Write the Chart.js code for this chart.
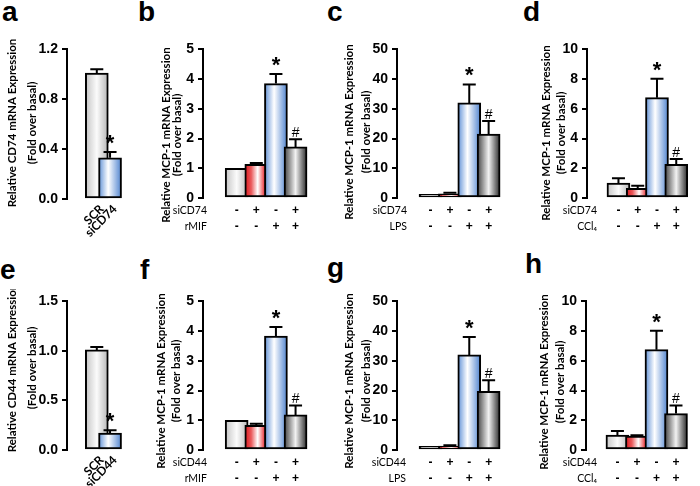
<!DOCTYPE html>
<html>
<head>
<meta charset="utf-8">
<script src="https://cdn.jsdelivr.net/npm/chart.js@4.4.1/dist/chart.umd.min.js"></script>
<style>
  html, body { margin: 0; padding: 0; background: #fff; }
  body { width: 700px; height: 486px; position: relative; overflow: hidden; }
  canvas { position: absolute; }
  .letter { position: absolute; font: bold 28px "Liberation Sans", Arial, sans-serif; line-height: 28px; color: #000; }
</style>
</head>
<body>
<div class="letter" style="left:2px;top:-2px">a</div>
<div class="letter" style="left:138px;top:-2px">b</div>
<div class="letter" style="left:327px;top:-2px">c</div>
<div class="letter" style="left:523px;top:-2px">d</div>
<div class="letter" style="left:0px;top:256px">e</div>
<div class="letter" style="left:140px;top:256px">f</div>
<div class="letter" style="left:327px;top:254px">g</div>
<div class="letter" style="left:525px;top:250px">h</div>

<script>
// ---- data ----
const knock74Labels = ['SCR', 'siCD74'];
const knock44Labels = ['SCR', 'siCD44'];
const siRow = ['-', '+', '-', '+'];
const stimRow = ['-', '-', '+', '+'];

const cd74Values = [1.01, 0.33];
const cd74Err = [0.03, 0.048];
const cd74Sig = ['', '*'];

const mif74Values = [1.0, 1.13, 3.85, 1.72];
const mif74Err = [0, 0.05, 0.32, 0.26];

const lps74Values = [1.2, 1.4, 32, 21.5];
const lps74Err = [0, 0.4, 6.2, 4.4];

const ccl74Values = [1.0, 0.65, 6.75, 2.27];
const ccl74Err = [0.33, 0.17, 1.28, 0.35];

const cd44Values = [1.01, 0.17];
const cd44Err = [0.03, 0.03];
const cd44Sig = ['', '*'];

const mif44Values = [1.0, 0.83, 3.83, 1.18];
const mif44Err = [0, 0.05, 0.31, 0.32];

const lps44Values = [1.2, 1.3, 32, 19.7];
const lps44Err = [0, 0.3, 6.0, 3.8];

const ccl44Values = [1.0, 0.93, 6.75, 2.45];
const ccl44Err = [0.28, 0.06, 1.27, 0.55];

const treatSig = ['', '', '*', '#'];

// bar shading, horizontal gradient stops [offset, colour]
const greyFill = [[0, '#c4c4c4'], [0.5, '#fbfbfb'], [1, '#b5b5b5']];
const redFill = [[0, '#dc141a'], [0.28, '#ea5a5c'], [0.56, '#ffffff'], [0.82, '#ec5257'], [1, '#d8151b']];
const blueFill = [[0, '#5d8fd6'], [0.42, '#ffffff'], [1, '#4d82cf']];
const darkFill = [[0, '#404040'], [0.5, '#f2f2f2'], [1, '#262626']];

const mcpTitle = ['Relative MCP-1 mRNA Expression', '(Fold over basal)'];

function fillFor(chart, fills, i) {
  const f = fills[i];
  if (!chart.chartArea) return f[0][1];
  const x = chart.scales.x.getPixelForValue(i);
  const g = chart.ctx.createLinearGradient(x - 11.5, 0, x + 11.5, 0);
  f.forEach(([o, c]) => g.addColorStop(o, c));
  return g;
}

const extras = {
  id: 'extras',
  afterDatasetsDraw(chart, args, o) {
    const ctx = chart.ctx;
    const meta = chart.getDatasetMeta(0);
    const y = chart.scales.y;
    const xs = chart.scales.x;
    ctx.save();
    ctx.strokeStyle = '#000';
    ctx.fillStyle = '#000';
    ctx.lineWidth = 2;
    meta.data.forEach((bar, i) => {
      const e = o.err[i];
      const top = y.getPixelForValue(o.values[i] + e);
      if (e > 0) {
        ctx.beginPath();
        ctx.moveTo(bar.x, bar.y);
        ctx.lineTo(bar.x, top);
        ctx.moveTo(bar.x - 6.5, top);
        ctx.lineTo(bar.x + 6.5, top);
        ctx.stroke();
      }
      const s = o.sig[i];
      ctx.textAlign = 'center';
      ctx.textBaseline = 'alphabetic';
      if (s === '*') {
        ctx.font = 'bold 22px "Liberation Sans"';
        ctx.fillText('*', bar.x, top - 2);
      } else if (s === '#') {
        ctx.font = '14px "Liberation Sans"';
        ctx.fillText('#', bar.x, top - 2);
      }
      // slanted category names (knock-down panels)
      if (o.slanted) {
        ctx.save();
        ctx.font = 'bold 12px Lato';
        ctx.textAlign = 'right';
        ctx.textBaseline = 'middle';
        ctx.translate(bar.x + 5, chart.chartArea.bottom + 8);
        ctx.rotate(-Math.PI / 4);
        ctx.fillText(o.slanted[i], 0, 0);
        ctx.restore();
      }
    });
    // y axis title, two rotated lines
    ctx.font = 'bold 11.5px Lato';
    ctx.textAlign = 'center';
    ctx.textBaseline = 'middle';
    o.title.forEach((t, k) => {
      ctx.save();
      ctx.translate(o.titleX[k] - o.left, o.titleY - o.top);
      ctx.rotate(-Math.PI / 2);
      ctx.fillText(t, 0, 0);
      ctx.restore();
    });
    // row names of the +/- table
    ctx.font = '10.5px Lato';
    ctx.textAlign = 'right';
    (o.rows || []).forEach((r, k) => {
      ctx.fillText(r, o.rowX - o.left, xs.top + 5 + 16 * (k + 0.5));
    });
    ctx.restore();
  }
};

function panel(p) {
  const cv = document.createElement('canvas');
  const W = p.right - p.left;
  const H = 12 + (p.bottom - p.top) + 42;
  cv.width = W; cv.height = H;
  cv.style.left = p.left + 'px';
  cv.style.top = (p.top - 12) + 'px';
  document.body.appendChild(cv);
  new Chart(cv, {
    type: 'bar',
    data: {
      datasets: [{
        data: p.values.map((v, i) => ({ x: i, y: v })),
        backgroundColor: (c) => fillFor(c.chart, p.fills, c.dataIndex),
        borderColor: '#000',
        borderWidth: 2,
        borderSkipped: false,
        barThickness: 23
      }]
    },
    options: {
      responsive: false,
      animation: false,
      events: [],
      layout: { padding: { top: 12, left: 0, right: 0, bottom: 0 } },
      plugins: {
        legend: { display: false },
        tooltip: { enabled: false },
        extras: {
          values: p.values, err: p.err, sig: p.sig, slanted: p.slanted,
          title: p.title, titleX: p.titleX, titleY: p.titleY,
          rows: p.rows, rowX: p.rowX,
          left: p.left, top: p.top - 12
        }
      },
      scales: {
        x: {
          type: 'linear',
          min: p.xMin, max: p.xMax, bounds: 'data',
          grid: { display: false, drawTicks: false, tickLength: 0 },
          border: { display: false },
          afterBuildTicks: (s) => { s.ticks = p.values.map((_, i) => ({ value: i })); },
          afterFit: (s) => { s.height = 42; },
          ticks: {
            display: !p.slanted,
            autoSkip: false, minRotation: 0, maxRotation: 0, padding: 5,
            color: '#000',
            font: { family: '"Liberation Sans"', size: 12, weight: 'bold', lineHeight: 16 / 12 },
            callback: (v) => [siRow[v], stimRow[v]]
          }
        },
        y: {
          min: 0, max: p.yMax,
          afterFit: (s) => { s.width = p.axisX - p.left; },
          ticks: {
            stepSize: p.step, padding: 4, color: '#000',
            font: { family: '"Liberation Sans"', size: 14, weight: 'bold' },
            callback: (v) => v.toFixed(p.dec)
          },
          grid: { drawOnChartArea: false, drawTicks: true, tickLength: 5, color: '#000', lineWidth: 2 },
          border: { color: '#000', width: 2 }
        }
      }
    },
    plugins: [extras]
  });
}

// top row
panel({ left: 0, axisX: 67, right: 135, top: 49, bottom: 199, xMin: -0.966, xMax: 1.6,
  values: cd74Values, err: cd74Err, sig: cd74Sig, fills: [greyFill, blueFill], slanted: knock74Labels,
  yMax: 1.2, step: 0.4, dec: 1,
  title: ['Relative CD74 mRNA Expression', '(Fold over basal)'], titleX: [12, 32], titleY: 123 });
panel({ left: 155, axisX: 203, right: 320, top: 49, bottom: 198, xMin: -0.97, xMax: 3.5,
  values: mif74Values, err: mif74Err, sig: treatSig, fills: [greyFill, redFill, blueFill, darkFill],
  yMax: 5, step: 1, dec: 0,
  title: mcpTitle, titleX: [166, 177], titleY: 135, rows: ['siCD74', 'rMIF'], rowX: 207 });
panel({ left: 338, axisX: 397, right: 515, top: 49, bottom: 198, xMin: -0.97, xMax: 3.6,
  values: lps74Values, err: lps74Err, sig: treatSig, fills: [greyFill, redFill, blueFill, darkFill],
  yMax: 50, step: 10, dec: 0,
  title: mcpTitle, titleX: [349, 366], titleY: 132, rows: ['siCD74', 'LPS'], rowX: 407 });
panel({ left: 535, axisX: 587, right: 700, top: 49, bottom: 198, xMin: -0.9, xMax: 3.5,
  values: ccl74Values, err: ccl74Err, sig: treatSig, fills: [greyFill, redFill, blueFill, darkFill],
  yMax: 10, step: 2, dec: 0,
  title: mcpTitle, titleX: [546, 561], titleY: 133, rows: ['siCD74', 'CCl\u2084'], rowX: 597 });

// bottom row
panel({ left: 0, axisX: 67, right: 135, top: 301, bottom: 450, xMin: -0.966, xMax: 1.6,
  values: cd44Values, err: cd44Err, sig: cd44Sig, fills: [greyFill, blueFill], slanted: knock44Labels,
  yMax: 1.5, step: 0.5, dec: 1,
  title: ['Relative CD44 mRNA Expression', '(Fold over basal)'], titleX: [12, 32], titleY: 368 });
panel({ left: 150, axisX: 203, right: 320, top: 301, bottom: 450, xMin: -0.97, xMax: 3.5,
  values: mif44Values, err: mif44Err, sig: treatSig, fills: [greyFill, redFill, blueFill, darkFill],
  yMax: 5, step: 1, dec: 0,
  title: mcpTitle, titleX: [161, 176], titleY: 381, rows: ['siCD44', 'rMIF'], rowX: 207 });
panel({ left: 338, axisX: 397, right: 515, top: 301, bottom: 450, xMin: -0.97, xMax: 3.6,
  values: lps44Values, err: lps44Err, sig: treatSig, fills: [greyFill, redFill, blueFill, darkFill],
  yMax: 50, step: 10, dec: 0,
  title: mcpTitle, titleX: [349, 366], titleY: 381, rows: ['siCD44', 'LPS'], rowX: 406 });
panel({ left: 533, axisX: 586, right: 700, top: 301, bottom: 450, xMin: -0.88, xMax: 3.5,
  values: ccl44Values, err: ccl44Err, sig: treatSig, fills: [greyFill, redFill, blueFill, darkFill],
  yMax: 10, step: 2, dec: 0,
  title: mcpTitle, titleX: [544, 560], titleY: 382, rows: ['siCD44', 'CCl\u2084'], rowX: 597 });
</script>
</body>
</html>
